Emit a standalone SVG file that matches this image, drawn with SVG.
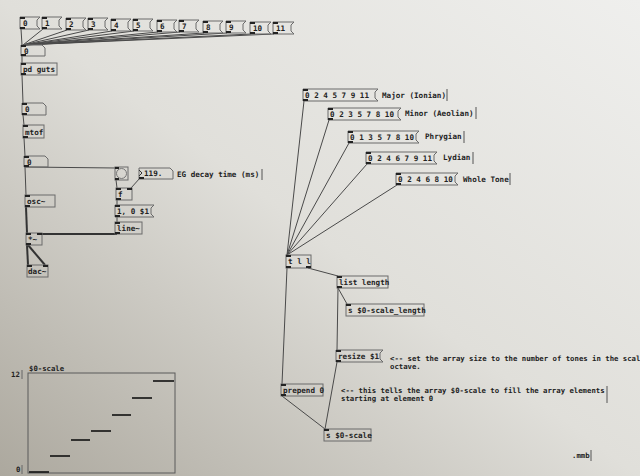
<svg xmlns="http://www.w3.org/2000/svg" width="640" height="476" viewBox="0 0 640 476">
<defs>
<linearGradient id="bg" x1="1" y1="0" x2="0" y2="1">
<stop offset="0" stop-color="#efefed"/>
<stop offset="0.5" stop-color="#e0dfda"/>
<stop offset="1" stop-color="#aca89e"/>
</linearGradient>
<style>
.b{fill:none;stroke:#6a6a6a;stroke-width:1}
.io{fill:#222}
.t{font-family:"DejaVu Sans Mono","Liberation Mono",monospace;font-weight:bold;font-size:7.6px;fill:#222}
.s{font-size:7.3px}
.c line{stroke:#4a4a4a;stroke-width:1;fill:none}
.c .sig{stroke-width:2;stroke:#333}
.bar{stroke:#111;stroke-width:1.6}
</style>
</defs>
<rect width="640" height="476" fill="url(#bg)"/>

<g class="c" id="connectors">
<line x1="21" y1="29" x2="22" y2="45"/>
<line x1="43" y1="29" x2="23" y2="45"/>
<line x1="67" y1="30" x2="23" y2="45"/>
<line x1="89" y1="30" x2="23" y2="45"/>
<line x1="112" y1="31" x2="23" y2="45"/>
<line x1="134" y1="31" x2="23" y2="45"/>
<line x1="158" y1="32" x2="23" y2="45"/>
<line x1="180" y1="32" x2="23" y2="45"/>
<line x1="204" y1="33" x2="23" y2="45"/>
<line x1="227" y1="33" x2="23" y2="45"/>
<line x1="251" y1="34" x2="23" y2="45"/>
<line x1="274" y1="34" x2="23" y2="45"/>
<line x1="22" y1="56" x2="22" y2="63"/>
<line x1="22" y1="75" x2="23" y2="103"/>
<line x1="23" y1="115" x2="24" y2="125"/>
<line x1="24" y1="138" x2="25" y2="156"/>
<line x1="25" y1="167" x2="116" y2="168"/>
<line x1="25" y1="167" x2="26" y2="195"/>
<line x1="116" y1="180" x2="117" y2="188"/>
<line x1="140" y1="178" x2="131" y2="188"/>
<line x1="117" y1="200" x2="117" y2="205"/>
<line x1="117" y1="217" x2="117" y2="222"/>
<line class="sig" x1="117" y1="234" x2="40" y2="234"/>
<line class="sig" x1="26" y1="207" x2="27" y2="233"/>
<line class="sig" x1="27" y1="245" x2="28" y2="265"/>
<line class="sig" x1="28" y1="245" x2="45" y2="265"/>
<line x1="304" y1="101" x2="287" y2="255"/>
<line x1="329" y1="120" x2="287" y2="255"/>
<line x1="349" y1="143" x2="287" y2="255"/>
<line x1="367" y1="164" x2="287" y2="255"/>
<line x1="397" y1="185" x2="287" y2="255"/>
<line x1="287" y1="268" x2="282" y2="384"/>
<line x1="308" y1="268" x2="338" y2="276"/>
<line x1="338" y1="288" x2="347" y2="304"/>
<line x1="338" y1="288" x2="337" y2="350"/>
<line x1="337" y1="362" x2="325" y2="429"/>
<line x1="282" y1="396" x2="325" y2="429"/>
</g>

<g id="msg0"><path class="b" d="M20 17H40L37 20V26L40 29H20Z"/><rect class="io" x="20" y="17" width="5" height="2"/><rect class="io" x="20" y="27" width="5" height="2"/><text class="t" x="23" y="26">0</text></g>
<g id="msg1"><path class="b" d="M42 17H62L59 20V26L62 29H42Z"/><rect class="io" x="42" y="17" width="5" height="2"/><rect class="io" x="42" y="27" width="5" height="2"/><text class="t" x="45" y="26">1</text></g>
<g id="msg2"><path class="b" d="M66 18H86L83 21V27L86 30H66Z"/><rect class="io" x="66" y="18" width="5" height="2"/><rect class="io" x="66" y="28" width="5" height="2"/><text class="t" x="69" y="27">2</text></g>
<g id="msg3"><path class="b" d="M88 18H108L105 21V27L108 30H88Z"/><rect class="io" x="88" y="18" width="5" height="2"/><rect class="io" x="88" y="28" width="5" height="2"/><text class="t" x="91" y="27">3</text></g>
<g id="msg4"><path class="b" d="M111 19H131L128 22V28L131 31H111Z"/><rect class="io" x="111" y="19" width="5" height="2"/><rect class="io" x="111" y="29" width="5" height="2"/><text class="t" x="114" y="28">4</text></g>
<g id="msg5"><path class="b" d="M133 19H153L150 22V28L153 31H133Z"/><rect class="io" x="133" y="19" width="5" height="2"/><rect class="io" x="133" y="29" width="5" height="2"/><text class="t" x="136" y="28">5</text></g>
<g id="msg6"><path class="b" d="M157 20H177L174 23V29L177 32H157Z"/><rect class="io" x="157" y="20" width="5" height="2"/><rect class="io" x="157" y="30" width="5" height="2"/><text class="t" x="160" y="29">6</text></g>
<g id="msg7"><path class="b" d="M179 20H199L196 23V29L199 32H179Z"/><rect class="io" x="179" y="20" width="5" height="2"/><rect class="io" x="179" y="30" width="5" height="2"/><text class="t" x="182" y="29">7</text></g>
<g id="msg8"><path class="b" d="M203 21H223L220 24V30L223 33H203Z"/><rect class="io" x="203" y="21" width="5" height="2"/><rect class="io" x="203" y="31" width="5" height="2"/><text class="t" x="206" y="30">8</text></g>
<g id="msg9"><path class="b" d="M226 21H246L243 24V30L246 33H226Z"/><rect class="io" x="226" y="21" width="5" height="2"/><rect class="io" x="226" y="31" width="5" height="2"/><text class="t" x="229" y="30">9</text></g>
<g id="msg10"><path class="b" d="M250 22H271L268 25V31L271 34H250Z"/><rect class="io" x="250" y="22" width="5" height="2"/><rect class="io" x="250" y="32" width="5" height="2"/><text class="t" x="253" y="31">10</text></g>
<g id="msg11"><path class="b" d="M273 22H294L291 25V31L294 34H273Z"/><rect class="io" x="273" y="22" width="5" height="2"/><rect class="io" x="273" y="32" width="5" height="2"/><text class="t" x="276" y="31">11</text></g>

<g id="num1"><path class="b" d="M21 45H42L45 48V56H21Z"/><rect class="io" x="21" y="45" width="5" height="2"/><rect class="io" x="21" y="54" width="5" height="2"/><text class="t" x="24" y="54">0</text></g>
<g id="pdguts"><rect class="b" x="21" y="63" width="36" height="12"/><rect class="io" x="21" y="63" width="5" height="2"/><rect class="io" x="21" y="73" width="5" height="2"/><text class="t" x="23" y="72">pd guts</text></g>
<g id="num2"><path class="b" d="M22 103H43L46 106V115H22Z"/><rect class="io" x="22" y="103" width="5" height="2"/><rect class="io" x="22" y="113" width="5" height="2"/><text class="t" x="25" y="112">0</text></g>
<g id="mtof"><rect class="b" x="23" y="125" width="21" height="13"/><rect class="io" x="23" y="125" width="5" height="2"/><rect class="io" x="23" y="136" width="5" height="2"/><text class="t" x="25" y="135">mtof</text></g>
<g id="num3"><path class="b" d="M24 156H45L48 159V167H24Z"/><rect class="io" x="24" y="156" width="5" height="2"/><rect class="io" x="24" y="165" width="5" height="2"/><text class="t" x="27" y="165">0</text></g>
<g id="osc"><rect class="b" x="25" y="195" width="30" height="12"/><rect class="io" x="25" y="195" width="5" height="2"/><rect class="io" x="25" y="205" width="5" height="2"/><text class="t" x="27" y="204">osc~</text></g>
<g id="mul"><rect class="b" x="26" y="233" width="16" height="12"/><rect class="io" x="26" y="233" width="5" height="2"/><rect class="io" x="37" y="233" width="5" height="2"/><rect class="io" x="26" y="243" width="5" height="2"/><text class="t" x="28" y="242">*~</text></g>
<g id="dac"><rect class="b" x="27" y="265" width="21" height="12"/><rect class="io" x="27" y="265" width="5" height="2"/><rect class="io" x="43" y="265" width="5" height="2"/><text class="t" x="28" y="274">dac~</text></g>

<g id="bang"><rect class="b" x="115" y="167" width="13" height="13"/><circle cx="121.5" cy="173.5" r="5" fill="none" stroke="#777"/><rect class="io" x="115" y="167" width="4" height="2"/><rect class="io" x="115" y="178" width="4" height="2"/></g>
<g id="decay"><path class="b" d="M139 168H170L173 171V179H139Z"/><path d="M139 170L142 173L139 176" fill="none" stroke="#333"/><rect class="io" x="139" y="177" width="5" height="2"/><text class="t" x="144" y="176">119.</text></g>
<text class="t" x="177" y="177">EG decay time (ms)</text><line x1="262" y1="169" x2="262" y2="180" stroke="#555"/>
<g id="float"><rect class="b" x="116" y="188" width="16" height="12"/><rect class="io" x="116" y="188" width="5" height="2"/><rect class="io" x="127" y="188" width="5" height="2"/><rect class="io" x="116" y="198" width="5" height="2"/><text class="t" x="118" y="197">f</text></g>
<g id="envmsg"><path class="b" d="M115 205H154L151 208V214L154 217H115Z"/><rect class="io" x="115" y="205" width="5" height="2"/><rect class="io" x="115" y="215" width="5" height="2"/><text class="t" x="117" y="214">1, 0 $1</text></g>
<g id="line"><rect class="b" x="115" y="222" width="27" height="12"/><rect class="io" x="115" y="222" width="5" height="2"/><rect class="io" x="115" y="232" width="5" height="2"/><text class="t" x="117" y="231">line~</text></g>

<g id="major"><path class="b" d="M303 89H378L375 92V98L378 101H303Z"/><rect class="io" x="303" y="89" width="5" height="2"/><rect class="io" x="303" y="99" width="5" height="2"/><text class="t" x="305" y="98">0 2 4 5 7 9 11</text></g>
<text class="t" x="382" y="98">Major (Ionian)</text><line x1="447" y1="89" x2="447" y2="101" stroke="#555"/>
<g id="minor"><path class="b" d="M328 108H401L398 111V117L401 120H328Z"/><rect class="io" x="328" y="108" width="5" height="2"/><rect class="io" x="328" y="118" width="5" height="2"/><text class="t" x="330" y="117">0 2 3 5 7 8 10</text></g>
<text class="t" x="405" y="116">Minor (Aeolian)</text><line x1="476" y1="107" x2="476" y2="119" stroke="#555"/>
<g id="phryg"><path class="b" d="M348 131H419L416 134V140L419 143H348Z"/><rect class="io" x="348" y="131" width="5" height="2"/><rect class="io" x="348" y="141" width="5" height="2"/><text class="t" x="350" y="140">0 1 3 5 7 8 10</text></g>
<text class="t" x="425" y="139">Phrygian</text><line x1="464" y1="131" x2="464" y2="143" stroke="#555"/>
<g id="lydian"><path class="b" d="M366 152H437L434 155V161L437 164H366Z"/><rect class="io" x="366" y="152" width="5" height="2"/><rect class="io" x="366" y="162" width="5" height="2"/><text class="t" x="368" y="161">0 2 4 6 7 9 11</text></g>
<text class="t" x="443" y="160">Lydian</text><line x1="473" y1="152" x2="473" y2="164" stroke="#555"/>
<g id="whole"><path class="b" d="M396 173H458L455 176V182L458 185H396Z"/><rect class="io" x="396" y="173" width="5" height="2"/><rect class="io" x="396" y="183" width="5" height="2"/><text class="t" x="398" y="182">0 2 4 6 8 10</text></g>
<text class="t" x="463" y="182">Whole Tone</text><line x1="510" y1="173" x2="510" y2="185" stroke="#555"/>

<g id="trigger"><rect class="b" x="286" y="255" width="25" height="13"/><rect class="io" x="286" y="255" width="5" height="2"/><rect class="io" x="286" y="266" width="5" height="2"/><rect class="io" x="306" y="266" width="5" height="2"/><text class="t" x="288" y="264">t l l</text></g>
<g id="listlen"><rect class="b" x="337" y="276" width="51" height="12"/><rect class="io" x="337" y="276" width="5" height="2"/><rect class="io" x="337" y="286" width="5" height="2"/><text class="t" x="339" y="285">list length</text></g>
<g id="slen"><rect class="b" x="346" y="304" width="78" height="12"/><rect class="io" x="346" y="304" width="5" height="2"/><text class="t" x="348" y="313">s $0-scale_length</text></g>
<g id="resize"><path class="b" d="M336 350H383L380 353V359L383 362H336Z"/><rect class="io" x="336" y="350" width="5" height="2"/><rect class="io" x="336" y="360" width="5" height="2"/><text class="t" x="338" y="359">resize $1</text></g>
<text class="t s" x="390" y="361">&lt;-- set the array size to the number of tones in the scal</text>
<text class="t s" x="390" y="369">octave.</text>
<g id="prepend"><rect class="b" x="281" y="384" width="42" height="12"/><rect class="io" x="281" y="384" width="5" height="2"/><rect class="io" x="281" y="394" width="5" height="2"/><text class="t" x="283" y="393">prepend 0</text></g>
<text class="t s" x="341" y="393">&lt;-- this tells the array $0-scale to fill the array elements</text>
<text class="t s" x="341" y="401">starting at element 0</text><line x1="607" y1="386" x2="607" y2="403" stroke="#555"/>
<g id="sscale"><rect class="b" x="324" y="429" width="47" height="12"/><rect class="io" x="324" y="429" width="5" height="2"/><text class="t" x="326" y="438">s $0-scale</text></g>

<g id="array">
<rect x="28" y="373" width="147" height="100" fill="none" stroke="#5a5a5a"/>
<text class="t s" x="29" y="371">$0-scale</text>
<text class="t s" x="11" y="377">12</text><line x1="22" y1="370" x2="22" y2="379" stroke="#666"/>
<text class="t s" x="16" y="472">0</text><line x1="22" y1="465" x2="22" y2="474" stroke="#666"/>
<line class="bar" x1="29" y1="472" x2="49" y2="472"/>
<line class="bar" x1="50" y1="456" x2="70" y2="456"/>
<line class="bar" x1="71" y1="440" x2="90" y2="440"/>
<line class="bar" x1="91" y1="431" x2="111" y2="431"/>
<line class="bar" x1="112" y1="415" x2="131" y2="415"/>
<line class="bar" x1="132" y1="398" x2="152" y2="398"/>
<line class="bar" x1="153" y1="381" x2="174" y2="381"/>
</g>
<text class="t s" x="572" y="458">.mmb</text><line x1="591" y1="450" x2="591" y2="461" stroke="#555"/>
</svg>
